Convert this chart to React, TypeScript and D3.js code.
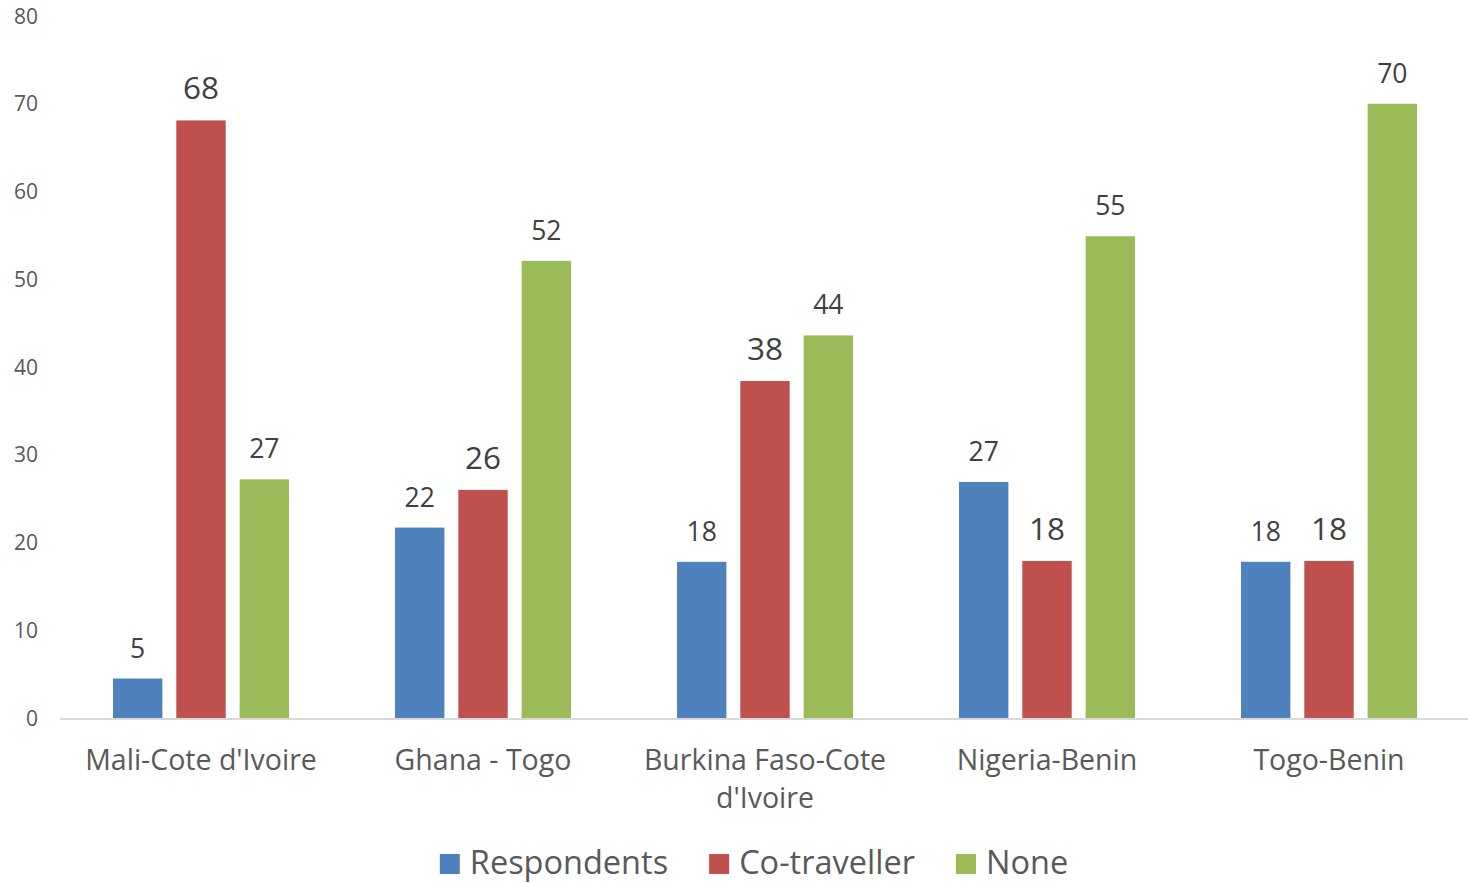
import React, { useEffect, useRef } from "react";
import * as d3 from "d3";

const categories = ["Mali-Cote d'Ivoire", "Ghana - Togo", "Burkina Faso-Cote d'Ivoire", "Nigeria-Benin", "Togo-Benin"];
const seriesNames = ["Respondents", "Co-traveller", "None"];
const respondents = [4.5, 21.7, 17.8, 26.9, 17.8];
const coTraveller = [68.1, 26.0, 38.4, 17.9, 17.9];
const none = [27.2, 52.1, 43.6, 54.9, 70.0];
const yTicks = [0, 10, 20, 30, 40, 50, 60, 70, 80];
const colors = ["#4f81bd", "#c0504d", "#9bbb59"];

const W = 1468;
const H = 883;
const FONT = "'Open Sans', sans-serif";

export default function App() {
  const ref = useRef<SVGSVGElement | null>(null);

  useEffect(() => {
    const svg = d3.select(ref.current);
    svg.selectAll("*").remove();

    const seriesValues = [respondents, coTraveller, none];
    const y = d3.scaleLinear().domain([0, 80]).range([718, 16]);
    const x = d3.scaleBand<string>().domain(categories).range([60, 1470]).padding(0);
    const groupW = 176;
    const xi = d3
      .scaleBand<string>()
      .domain(seriesNames)
      .range([-groupW / 2, groupW / 2])
      .paddingInner(0.22)
      .paddingOuter(0);

    // y tick labels
    svg
      .append("g")
      .selectAll("text")
      .data(yTicks)
      .join("text")
      .attr("x", 38)
      .attr("y", (d) => y(d))
      .attr("dy", "0.36em")
      .attr("text-anchor", "end")
      .attr("font-family", FONT)
      .attr("font-size", 21)
      .attr("fill", "#595959")
      .text((d) => d);

    // bars
    seriesNames.forEach((s, si) => {
      const vals = seriesValues[si];
      const g = svg.append("g");
      g.selectAll("rect")
        .data(categories)
        .join("rect")
        .attr("x", (c) => (x(c) as number) + x.bandwidth() / 2 + (xi(s) as number))
        .attr("y", (c, i) => y(vals[i]))
        .attr("width", xi.bandwidth())
        .attr("height", (c, i) => y(0) - y(vals[i]))
        .attr("fill", colors[si]);
      g.selectAll("text")
        .data(categories)
        .join("text")
        .attr("x", (c) => (x(c) as number) + x.bandwidth() / 2 + (xi(s) as number) + xi.bandwidth() / 2)
        .attr("y", (c, i) => y(vals[i]) - 21)
        .attr("text-anchor", "middle")
        .attr("font-family", FONT)
        .attr("font-size", si === 1 ? 31.5 : 26.5)
        .attr("fill", "#404040")
        .text((c, i) => Math.round(vals[i]));
    });

    // axis line
    svg
      .append("line")
      .attr("x1", 60)
      .attr("x2", W)
      .attr("y1", y(0) + 1)
      .attr("y2", y(0) + 1)
      .attr("stroke", "#d9d9d9")
      .attr("stroke-width", 2);

    // category labels with wrapping
    const maxW = 255;
    categories.forEach((c) => {
      const cx = (x(c) as number) + x.bandwidth() / 2;
      const t = svg
        .append("text")
        .attr("x", cx)
        .attr("y", 770)
        .attr("text-anchor", "middle")
        .attr("font-family", FONT)
        .attr("font-size", 28.5)
        .attr("fill", "#595959");
      const words = c.split(" ");
      let line: string[] = [];
      let tspan = t.append("tspan").attr("x", cx).attr("dy", 0);
      words.forEach((w) => {
        line.push(w);
        tspan.text(line.join(" "));
        if ((tspan.node() as SVGTSpanElement).getComputedTextLength() > maxW && line.length > 1) {
          line.pop();
          tspan.text(line.join(" "));
          line = [w];
          tspan = t.append("tspan").attr("x", cx).attr("dy", 38).text(w);
        }
      });
    });

    // legend
    const lg = svg.append("g");
    let cx = 0;
    seriesNames.forEach((s, si) => {
      lg.append("rect")
        .attr("x", cx)
        .attr("y", 854)
        .attr("width", 20)
        .attr("height", 20)
        .attr("fill", colors[si]);
      const t = lg
        .append("text")
        .attr("x", cx + 30)
        .attr("y", 874)
        .attr("font-family", FONT)
        .attr("font-size", 32.5)
        .attr("fill", "#595959")
        .text(s);
      const tw = (t.node() as SVGTextElement).getComputedTextLength();
      cx += 30 + tw + (si < seriesNames.length - 1 ? 41 : 0);
    });
    lg.attr("transform", `translate(${754 - cx / 2},0)`);
  }, []);

  return (
    <svg
      ref={ref}
      width={W}
      height={H}
      style={{ position: "absolute", left: 0, top: 0, background: "#fff" }}
    />
  );
}
